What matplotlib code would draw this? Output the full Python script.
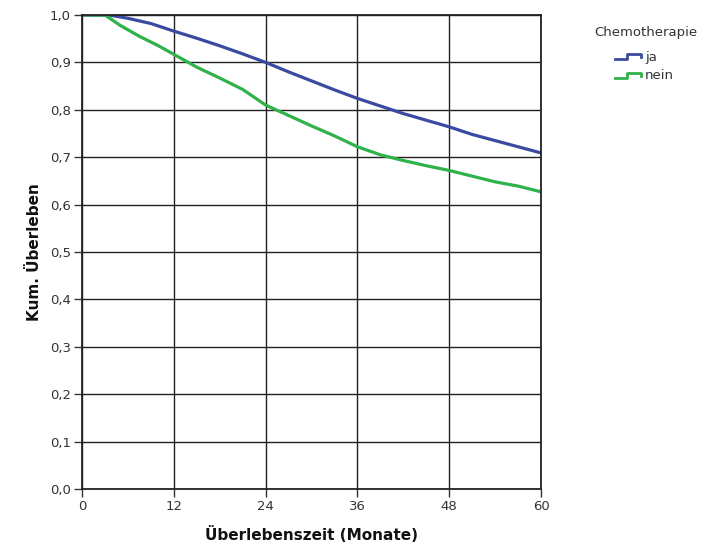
import matplotlib.pyplot as plt
from matplotlib.lines import Line2D
from matplotlib.legend_handler import HandlerLine2D
import numpy as np

# Kaplan-Meier Schätzwerte
zeit_ja = [0, 3.5, 6, 9, 12, 15, 18, 21, 24, 27, 30, 33, 36, 39, 42, 45, 48, 51, 54, 57, 60]
ueberleben_ja = [1.0, 1.0, 0.993, 0.982, 0.966, 0.951, 0.935, 0.918, 0.900, 0.880, 0.861,
                 0.842, 0.824, 0.808, 0.792, 0.778, 0.764, 0.748, 0.735, 0.722, 0.709]
zeit_nein = [0, 3, 5, 7.5, 10, 12, 15, 18, 21, 24, 27, 30, 33, 36, 39, 42, 45, 48, 51, 54, 57, 60]
ueberleben_nein = [1.0, 1.0, 0.978, 0.955, 0.935, 0.917, 0.890, 0.867, 0.843, 0.810, 0.788,
                   0.766, 0.745, 0.722, 0.705, 0.693, 0.682, 0.672, 0.660, 0.648, 0.639, 0.627]
x_ticks = [0, 12, 24, 36, 48, 60]
y_ticks = np.arange(0, 11) / 10
y_labels = [('%.1f' % v).replace('.', ',') for v in y_ticks]

plt.rcParams['font.family'] = ['Liberation Sans Narrow', 'DejaVu Sans']


class StepHandler(HandlerLine2D):
    # Legendensymbol als kleine Treppe wie in SPSS
    def create_artists(self, legend, orig_handle, xdescent, ydescent, width, height, fontsize, trans):
        x0 = -xdescent
        xs = [x0, x0 + width * 0.45, x0 + width * 0.45, x0 + width * 0.95, x0 + width * 0.95]
        ys = [height * 0.2, height * 0.2, height * 0.75, height * 0.75, height * 0.4]
        ys = [y - ydescent for y in ys]
        ln = Line2D(xs, ys, color=orig_handle.get_color(), lw=2.0)
        ln.set_transform(trans)
        return [ln]


fig = plt.figure(figsize=(7.05, 5.49), dpi=100)
ax = fig.add_axes([0.1163, 0.1093, 0.6511, 0.8634])

l1, = ax.plot(zeit_ja, ueberleben_ja, color='#3a4aa0', lw=2.3, label='ja')
l2, = ax.plot(zeit_nein, ueberleben_nein, color='#2fb24a', lw=2.3, label='nein')

ax.set_xlim(0, 60)
ax.set_ylim(0, 1.0)
ax.set_xticks(x_ticks)
ax.set_yticks(y_ticks)
ax.set_yticklabels(y_labels)
ax.grid(True, color='#222222', lw=1.0)
ax.set_axisbelow(True)
for s in ax.spines.values():
    s.set_linewidth(1.3)
    s.set_color('#222222')
ax.tick_params(direction='out', length=6, width=1.0, labelsize=9.5, colors='#333333', pad=2)

ax.set_xlabel('Überlebenszeit (Monate)', fontsize=11, fontweight='bold', labelpad=9, color='#111111')
ax.set_ylabel('Kum. Überleben', fontsize=11, fontweight='bold', labelpad=6, color='#111111')

fig.text(0.843, 0.94, 'Chemotherapie', fontsize=9.5, color='#333333', va='center', ha='left')
leg = fig.legend(handles=[l1, l2], loc='upper left',
                 bbox_to_anchor=(0.872, 0.908), frameon=False, fontsize=9.5,
                 handlelength=2.1, handletextpad=0.2,
                 labelspacing=0.45, borderaxespad=0, borderpad=0,
                 handler_map={Line2D: StepHandler()})
for t in leg.get_texts():
    t.set_color('#333333')

fig.savefig('out.png', dpi=100)
